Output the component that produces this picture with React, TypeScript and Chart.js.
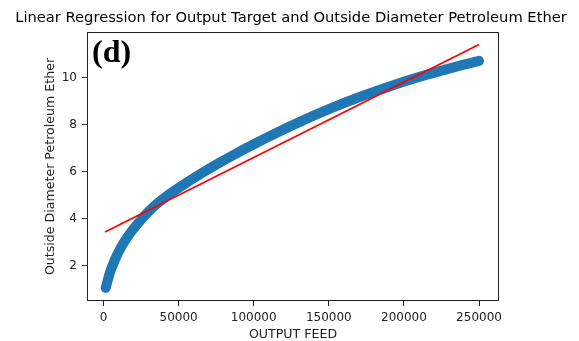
import React, { useEffect, useRef } from "react";
import { Chart, registerables } from "chart.js";

Chart.register(...registerables);

// ---- data ----
const feedX = [
  1500, 2500, 4000, 6000, 8500, 11000, 14000, 17500, 21000, 25000, 30000, 35000,
  40000, 47000, 55000, 65000, 75000, 87000, 100000, 115000, 130000, 150000,
  170000, 190000, 210000, 230000, 250000,
];
const diameterY = [
  1.05, 1.3, 1.65, 2.0, 2.38, 2.7, 3.03, 3.36, 3.65, 3.95, 4.3, 4.6,
  4.86, 5.18, 5.52, 5.92, 6.3, 6.73, 7.17, 7.65, 8.1, 8.66,
  9.17, 9.62, 10.03, 10.39, 10.72,
];
const fitX = [1000, 250000];
const fitY = [3.43, 11.42];
const xTickValues = [0, 50000, 100000, 150000, 200000, 250000];
const yTickValues = [2, 4, 6, 8, 10];
const titleText =
  "Linear Regression for Output Target and Outside Diameter Petroleum Ether";
const panelLabel = "(d)";
const xAxisLabel = "OUTPUT FEED";
const yAxisLabel = "Outside Diameter Petroleum Ether";

const FONT = '"DejaVu Sans", sans-serif';

const overlay = {
  id: "overlay",
  afterDraw(chart: any) {
    const { ctx, chartArea: a } = chart;
    ctx.save();
    ctx.strokeStyle = "#222";
    ctx.lineWidth = 1;
    ctx.strokeRect(
      Math.round(a.left) + 0.5,
      Math.round(a.top) + 0.5,
      Math.round(a.right - a.left) - 1,
      Math.round(a.bottom - a.top) - 1
    );
    ctx.fillStyle = "#000";
    ctx.font = "14.7px " + FONT;
    ctx.textAlign = "center";
    ctx.textBaseline = "middle";
    ctx.fillText(titleText, (a.left + a.right) / 2 - 2, 18);
    ctx.font = 'bold 32px "Liberation Serif", serif';
    ctx.textAlign = "left";
    ctx.textBaseline = "alphabetic";
    ctx.fillText(panelLabel, a.left + 5, 62);
    ctx.restore();
  },
};

export default function App() {
  const ref = useRef<HTMLCanvasElement | null>(null);

  useEffect(() => {
    document.body.style.margin = "0";
    const canvas = ref.current;
    if (!canvas) return;
    const chart = new Chart(canvas, {
      type: "scatter",
      data: {
        datasets: [
          {
            label: "fit",
            data: fitX.map((x, i) => ({ x, y: fitY[i] })),
            showLine: true,
            borderColor: "#ff0000",
            borderWidth: 1.8,
            pointRadius: 0,
            order: 0,
          },
          {
            label: "data",
            data: feedX.map((x, i) => ({ x, y: diameterY[i] })),
            showLine: true,
            borderColor: "#1f77b4",
            backgroundColor: "#1f77b4",
            borderWidth: 10,
            borderCapStyle: "round",
            borderJoinStyle: "round",
            cubicInterpolationMode: "monotone",
            pointRadius: 0,
            order: 1,
          },
        ],
      },
      options: {
        responsive: false,
        animation: false,
        devicePixelRatio: 1,
        layout: { padding: { top: 32, right: 80, left: 0, bottom: 0 } },
        plugins: {
          legend: { display: false },
          tooltip: { enabled: false },
          title: { display: false },
        },
        scales: {
          x: {
            type: "linear",
            min: -11000,
            max: 263300,
            afterFit: (axis: any) => {
              axis.height = 40;
            },
            afterBuildTicks: (axis: any) => {
              axis.ticks = xTickValues.map((v) => ({ value: v }));
            },
            grid: {
              display: true,
              drawOnChartArea: false,
              drawTicks: true,
              tickLength: 5,
              color: "#222",
            },
            border: { display: false },
            ticks: {
              color: "#222",
              font: { family: FONT, size: 12 },
              padding: 5,
              maxRotation: 0,
              autoSkip: false,
              callback: (v: any) => String(v),
            },
            title: {
              display: true,
              text: xAxisLabel,
              color: "#222",
              font: { family: FONT, size: 12.6, lineHeight: 1.0 },
              padding: { top: 0, bottom: 0 },
            },
          },
          y: {
            type: "linear",
            min: 0.49,
            max: 11.95,
            afterFit: (axis: any) => {
              axis.width = 87;
            },
            afterBuildTicks: (axis: any) => {
              axis.ticks = yTickValues.map((v) => ({ value: v }));
            },
            grid: {
              display: true,
              drawOnChartArea: false,
              drawTicks: true,
              tickLength: 5,
              color: "#222",
            },
            border: { display: false },
            ticks: {
              color: "#222",
              font: { family: FONT, size: 12 },
              padding: 5,
              autoSkip: false,
              callback: (v: any) => String(v),
            },
            title: {
              display: true,
              text: yAxisLabel,
              color: "#222",
              font: { family: FONT, size: 12.6, lineHeight: 1.0 },
              padding: { top: 44.5, bottom: 0 },
            },
          },
        },
      },
      plugins: [overlay],
    });
    return () => chart.destroy();
  }, []);

  return (
    <div style={{ width: 579, height: 341, background: "#fff" }}>
      <canvas ref={ref} width={579} height={341} />
    </div>
  );
}
